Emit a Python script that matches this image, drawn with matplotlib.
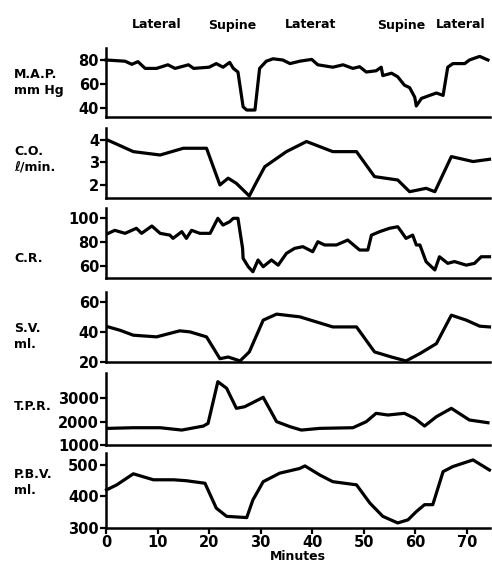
import matplotlib.pyplot as plt

# minutes / values
map_t = [0, 3.7, 5, 6.2, 7.6, 9.8, 12, 13.4, 16, 17, 20, 21.4, 22.7, 24, 24.7, 25.6,
         26.6, 27.3, 28.9, 29.8, 31.1, 32.4, 34.3, 35.7, 37.6, 39.9, 41.1, 44, 46,
         47.9, 49.2, 50.5, 52.4, 53.4, 53.7, 55.4, 56.6, 57.9, 58.9, 59.9, 60.2, 61.2,
         62.8, 64.1, 65.4, 66.3, 67.3, 69.6, 70.5, 72.5, 74.1]
map_v = [80, 79, 76.4, 78.6, 73, 73, 76, 73, 76, 73, 74, 77, 74, 78, 73, 70,
         41, 38.3, 38.3, 73, 79, 81, 80, 77, 79, 80.5, 76, 74, 76,
         73, 74.4, 70, 71, 74, 67, 69, 66, 59, 57, 49, 41.7, 48,
         50.5, 52.5, 50.5, 74, 77, 77, 80, 83, 80]

co_t = [0.25, 2.4, 5.3, 10.5, 15, 19.5, 22.1, 23.7, 25.3, 27.8, 28.9, 30.8, 35, 38.9,
        44, 48.6, 52.1, 56.6, 58.9, 62.1, 63.8, 67, 71.2, 74.4]
co_v = [4.0, 3.78, 3.48, 3.33, 3.63, 3.63, 2.0, 2.3, 2.07, 1.51, 2.0, 2.81, 3.48, 3.93,
        3.48, 3.48, 2.37, 2.22, 1.7, 1.85, 1.7, 3.26, 3.04, 3.14]

cr_t = [0.45, 1.7, 3.7, 5.9, 6.9, 8.9, 10.5, 12.4, 13, 14.7, 15.6, 16.6, 18.2, 20.2,
        21.7, 22.7, 24, 24.7, 25.6, 26.5, 26.6, 27.6, 28.5, 29.5, 30.5, 32.1, 33.4,
        35, 36.6, 38.2, 40.1, 41.1, 42.4, 44.7, 46.9, 49.2, 50.8, 51.5, 53.1, 55,
        56.6, 57.3, 58.2, 59.5, 60.2, 60.9, 62.1, 63.8, 64.7, 66.3, 67.6, 69.9, 71.5,
        72.8, 74.4]
cr_v = [87.5, 90, 87.5, 91.7, 87.5, 93.6, 87.5, 86, 83.3, 88.9, 83.3, 90, 87.5, 87.5,
        100, 94.4, 97.2, 100, 100, 75, 66.7, 59.7, 55.5, 65.3, 59.7, 65.3, 61,
        70.8, 75, 76.4, 72.2, 80.5, 77.8, 77.8, 81.9, 73.6, 73.6, 86, 88.9, 91.7,
        93, 88.9, 83.3, 86, 77.8, 77.8, 63.9, 57, 68, 62.5, 64, 61, 62.5,
        68, 68]

sv_t = [0.45, 2.7, 5.3, 9.8, 14.3, 16.3, 19.5, 22.1, 23.7, 24.7, 26, 27.8, 30.5, 33.1,
        37.6, 44, 48.6, 52.1, 55.4, 58.2, 60.9, 64.1, 67, 69.9, 72.5, 74.4]
sv_v = [43.3, 41.1, 37.8, 36.7, 40.7, 40, 36.7, 22.2, 23.3, 22.2, 20.7, 26.7, 47.8, 51.8,
        50, 43.3, 43.3, 26.7, 23.3, 20.7, 25.6, 32.2, 51.1, 47.8, 43.8, 43.3]

tpr_t = [0.45, 5.3, 10.5, 14.7, 18.9, 19.8, 21.7, 23.4, 25.3, 26.9, 30.5, 33.1, 35.7,
         37.9, 41.5, 47.9, 50.5, 52.4, 54.7, 57.9, 59.9, 61.8, 64.1, 67, 70.5, 74.1]
tpr_v = [1713, 1740, 1740, 1640, 1812, 1927, 3713, 3430, 2571, 2640, 3043, 2000, 1785,
         1640, 1713, 1740, 2000, 2357, 2285, 2357, 2142, 1812, 2213, 2571, 2071, 1955]

pbv_t = [0.1, 2.1, 5.3, 9.2, 13.1, 15.6, 19.2, 21.4, 23.4, 27.3, 28.5, 30.5, 33.7, 37.6,
         38.6, 41.5, 44, 48.6, 51.2, 53.7, 56.6, 58.6, 60.2, 61.8, 63.4, 65.4, 67.3,
         71.2, 74.4]
pbv_v = [421, 437, 472, 453, 453, 450, 442, 363, 337, 333, 389, 447, 474, 489,
         497, 468, 447, 437, 379, 337, 316, 326, 352, 374, 374, 479, 495,
         516, 484]

row_labels = ['M.A.P.\nmm Hg', 'C.O.\n\u2113/min.', 'C.R.', 'S.V.\nml.', 'T.P.R.', 'P.B.V.\nml.']
row_ticks = [[40, 60, 80], [2, 3, 4], [60, 80, 100], [20, 40, 60],
             [1000, 2000, 3000], [300, 400, 500]]
row_ylims = [(32.5, 90), (1.42, 4.53), (50.3, 108.6), (20, 66.5), (1000, 4085), (300, 538)]
x_ticks = [0, 10, 20, 30, 40, 50, 60, 70]
positions = ['Lateral', 'Supine', 'Laterat', 'Supine', 'Lateral']
position_x = [157, 232, 311, 401, 461]  # pixel centres of the header words

series = [(map_t, map_v), (co_t, co_v), (cr_t, cr_v), (sv_t, sv_v),
          (tpr_t, tpr_v), (pbv_t, pbv_v)]

# pixel extents (top, bottom) of each panel in the 492x570 figure
panel_px = [(48, 117), (128, 198), (208, 278), (292, 362), (373, 445), (453, 528)]
W, H = 492, 570
left_px, right_px = 106, 490
label_y = [68, 145, 252, 322, 400, 468]

plt.rcParams['font.family'] = 'DejaVu Sans'
plt.rcParams['font.weight'] = 'bold'
fig = plt.figure(figsize=(W / 100, H / 100), dpi=100)

for i, ((t, v), (top, bot)) in enumerate(zip(series, panel_px)):
    ax = fig.add_axes([left_px / W, 1 - bot / H, (right_px - left_px) / W, (bot - top) / H])
    ax.plot(t, v, color='black', lw=2.3, solid_joinstyle='round', clip_on=False)
    ax.set_xlim(0, 74.5)
    ax.set_ylim(*row_ylims[i])
    ax.set_yticks(row_ticks[i])
    ax.tick_params(axis='y', direction='out', length=4, width=1.6, labelsize=10.5, pad=1)
    for lab in ax.get_yticklabels():
        lab.set_fontweight('bold')
    for s in ['top', 'right']:
        ax.spines[s].set_visible(False)
    ax.spines['left'].set_linewidth(1.8)
    ax.spines['bottom'].set_linewidth(1.8)
    if i == len(series) - 1:
        ax.set_xticks(x_ticks)
        ax.tick_params(axis='x', direction='out', length=4, width=1.6, labelsize=10.5, pad=1)
        for lab in ax.get_xticklabels():
            lab.set_fontweight('bold')
        ax.set_xlabel('Minutes', fontsize=9, fontweight='bold', labelpad=0)
    else:
        ax.set_xticks([])
    ax.patch.set_visible(False)
    fig.text(14 / W, 1 - label_y[i] / H, row_labels[i], fontsize=9, fontweight='bold',
             va='top', ha='left', linespacing=1.3)

for name, px in zip(positions, position_x):
    fig.text(px / W, 1 - 25 / H, name, fontsize=9, fontweight='bold', ha='center', va='center')

fig.savefig('out.png', dpi=100)
